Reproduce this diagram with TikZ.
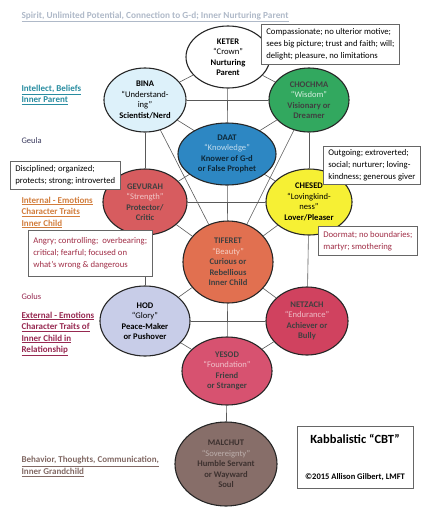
\documentclass[tikz,border=0pt]{standalone}
\usepackage{fontspec}
\setmainfont{Carlito}
\usetikzlibrary{shapes.geometric,backgrounds}

\definecolor{binafill}{RGB}{221,241,250}
\definecolor{chochmafill}{RGB}{50,168,95}
\definecolor{daatfill}{RGB}{45,135,195}
\definecolor{gevurahfill}{RGB}{215,92,95}
\definecolor{chesedfill}{RGB}{246,240,52}
\definecolor{tiferetfill}{RGB}{225,112,80}
\definecolor{hodfill}{RGB}{200,205,232}
\definecolor{netzachfill}{RGB}{208,66,95}
\definecolor{yesodfill}{RGB}{215,82,112}
\definecolor{malchutfill}{RGB}{135,110,105}
\definecolor{titlecol}{RGB}{175,185,200}
\definecolor{intellectcol}{RGB}{40,140,160}
\definecolor{geulacol}{RGB}{60,60,95}
\definecolor{internalcol}{RGB}{210,125,60}
\definecolor{angrycol}{RGB}{160,45,70}
\definecolor{externalcol}{RGB}{150,40,80}
\definecolor{behaviorcol}{RGB}{130,105,100}

\tikzset{
  sefira/.style={ellipse,draw=black!85,line width=1.1pt,inner sep=0pt,align=center,
    font=\fontsize{8.6}{10.5}\selectfont},
  link/.style={draw=black!65,line width=0.6pt},
  trait/.style={draw=black!60,line width=0.6pt,fill=white,anchor=north west,align=left,
    inner xsep=5pt,inner ysep=3pt,font=\fontsize{8.7}{12}\selectfont},
  level/.style={anchor=west,align=left,font=\bfseries\fontsize{9}{11.5}\selectfont},
}

\begin{document}
\begin{tikzpicture}[x=1pt,y=-1pt]
\useasboundingbox (0,0) rectangle (427,507);

% sefirot
\node[sefira,fill=white,minimum width=84,minimum height=62] (keter) at (228,57)
  {\textbf{KETER}\\“Crown”\\\textbf{Nurturing}\\\textbf{Parent}};
\node[sefira,fill=binafill,minimum width=82,minimum height=64] (bina) at (145,100)
  {\textbf{BINA}\\“Understand-\\ing”\\\textbf{Scientist/Nerd}};
\node[sefira,fill=chochmafill,text=black!75,minimum width=80,minimum height=64] (chochma) at (309,100)
  {\textbf{CHOCHMA}\\\textcolor{white!80!chochmafill}{“Wisdom”}\\\textbf{Visionary or}\\\textbf{Dreamer}};
\node[sefira,fill=daatfill,text=black!70!daatfill,minimum width=98,minimum height=62] (daat) at (227,154)
  {\textbf{DAAT}\\\textcolor{white!70!daatfill}{“Knowledge”}\\\textbf{Knower of G-d}\\\textbf{or False Prophet}};
\node[sefira,fill=gevurahfill,text=black!75,minimum width=84,minimum height=66] (gevurah) at (145,202)
  {\textbf{GEVURAH}\\\textcolor{white!65!gevurahfill}{“Strength”}\\\textbf{Protector/}\\\textbf{Critic}};
\node[sefira,fill=chesedfill,minimum width=86,minimum height=66] (chesed) at (309,202)
  {\textbf{CHESED}\\“Lovingkind-\\ness”\\\textbf{Lover/Pleaser}};
\node[sefira,fill=tiferetfill,text=black!75,minimum width=90,minimum height=82] (tiferet) at (228,262)
  {\textbf{TIFERET}\\\textcolor{white!65!tiferetfill}{“Beauty”}\\\textbf{Curious or}\\\textbf{Rebellious}\\\textbf{Inner Child}};
\node[sefira,fill=hodfill,minimum width=90,minimum height=70] (hod) at (145,321)
  {\textbf{HOD}\\“Glory”\\\textbf{Peace-Maker}\\\textbf{or Pushover}};
\node[sefira,fill=netzachfill,text=black!75,minimum width=82,minimum height=68] (netzach) at (307,321)
  {\textbf{NETZACH}\\\textcolor{white!65!netzachfill}{“Endurance”}\\\textbf{Achiever or}\\\textbf{Bully}};
\node[sefira,fill=yesodfill,text=black!75,minimum width=90,minimum height=68] (yesod) at (227,371)
  {\textbf{YESOD}\\\textcolor{white!65!yesodfill}{“Foundation”}\\\textbf{Friend}\\\textbf{or Stranger}};
\node[sefira,fill=malchutfill,text=black!55!malchutfill,minimum width=102,minimum height=84] (malchut) at (226,464)
  {\textbf{MALCHUT}\\\textcolor{white!45!malchutfill}{“Sovereignty”}\\\textbf{Humble Servant}\\\textbf{or Wayward}\\\textbf{Soul}};

% paths of the tree
\begin{scope}[on background layer]
  \draw[link] (keter) -- (bina);
  \draw[link] (keter) -- (chochma);
  \draw[link] (keter) -- (daat);
  \draw[link] (bina) -- (chochma);
  \draw[link] (bina) -- (gevurah);
  \draw[link] (chochma) -- (chesed);
  \draw[link] (bina) -- (chesed);
  \draw[link] (chochma) -- (gevurah);
  \draw[link] (bina) -- (tiferet);
  \draw[link] (chochma) -- (tiferet);
  \draw[link] (daat) -- (tiferet);
  \draw[link] (gevurah) -- (chesed);
  \draw[link] (gevurah) -- (tiferet);
  \draw[link] (chesed) -- (tiferet);
  \draw[link] (gevurah) -- (hod);
  \draw[link] (chesed) -- (netzach);
  \draw[link] (tiferet) -- (hod);
  \draw[link] (tiferet) -- (netzach);
  \draw[link] (hod) -- (netzach);
  \draw[link] (tiferet) -- (yesod);
  \draw[link] (hod) -- (yesod);
  \draw[link] (netzach) -- (yesod);
  \draw[link] (yesod) -- (malchut);
\end{scope}

% trait boxes
\node[trait,minimum height=40] (keterbox) at (261,24)
  {Compassionate; no ulterior motive;\\sees big picture; trust and faith; will;\\delight; pleasure, no limitations};
\node[trait,minimum height=28] (gevurahbox) at (10,161)
  {Disciplined; organized;\\protects; strong; introverted};
\node[trait,minimum height=37] (chesedbox) at (323,146)
  {Outgoing; extroverted;\\social; nurturer; loving-\\kindness; generous giver};
\node[trait,text=angrycol,minimum height=46] (angrybox) at (28,230)
  {Angry; controlling;\ \ overbearing;\\critical; fearful; focused on\\what’s wrong \& dangerous};
\node[trait,text=angrycol,minimum height=29] (doormatbox) at (318,226)
  {Doormat; no boundaries;\\martyr; smothering};
\node[draw=black!60,line width=0.6pt,minimum width=116,minimum height=62,align=center,font=\bfseries] (cbt) at (355,457)
  {{\fontsize{12.5}{14}\selectfont Kabbalistic “CBT”}\\[24pt]{\fontsize{8.5}{10}\selectfont ©2015 Allison Gilbert, LMFT}};

% levels
\node[level,text=titlecol,font=\bfseries\fontsize{9.3}{11}\selectfont] (spirit) at (18,17)
  {\underline{Spirit, Unlimited Potential, Connection to G-d; Inner Nurturing Parent}};
\node[level,text=intellectcol] (intellect) at (18,95)
  {\underline{Intellect, Beliefs}\\\underline{Inner Parent}};
\node[level,text=geulacol,font=\fontsize{8.5}{10}\selectfont] (geula) at (18,141) {Geula};
\node[level,text=internalcol] (internal) at (18,212.5)
  {\underline{Internal - Emotions}\\\underline{Character Traits}\\\underline{Inner Child}};
\node[level,text=externalcol,font=\fontsize{8.5}{10}\selectfont] (golus) at (18,297) {Golus};
\node[level,text=externalcol] (external) at (18,334)
  {\underline{External - Emotions}\\\underline{Character Traits of}\\\underline{Inner Child in}\\\underline{Relationship}};
\node[level,text=behaviorcol] (behavior) at (18,466.5)
  {\underline{Behavior, Thoughts, Communication,}\\\underline{Inner Grandchild}};
\end{tikzpicture}
\end{document}
